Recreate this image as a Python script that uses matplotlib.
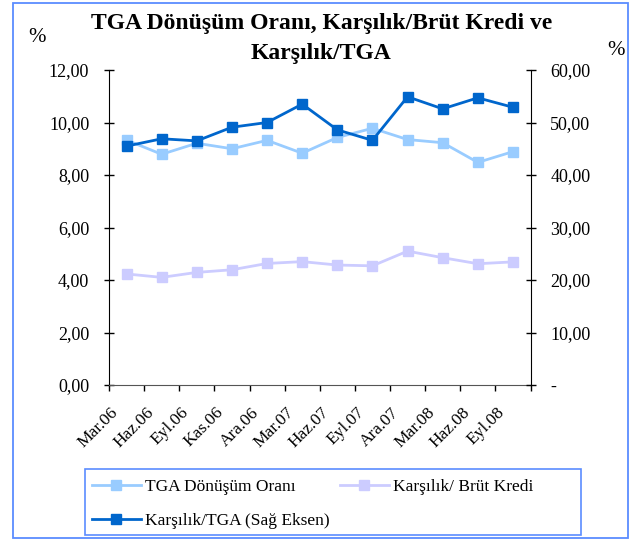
import matplotlib
matplotlib.use("Agg")
import matplotlib.pyplot as plt
from matplotlib.patches import Rectangle
from matplotlib.ticker import FixedLocator, FuncFormatter

plt.rcParams['font.family'] = ['Liberation Serif', 'DejaVu Serif']

donemler = ["Mar.06", "Haz.06", "Eyl.06", "Kas.06", "Ara.06", "Mar.07",
            "Haz.07", "Eyl.07", "Ara.07", "Mar.08", "Haz.08", "Eyl.08"]
tga_donusum = [9.33, 8.79, 9.21, 9.00, 9.32, 8.83, 9.43, 9.78, 9.35, 9.23, 8.48, 8.89]
karsilik_brut = [4.23, 4.10, 4.29, 4.39, 4.63, 4.70, 4.57, 4.54, 5.10, 4.85, 4.62, 4.69]
karsilik_tga = [45.5, 46.9, 46.5, 49.1, 50.0, 53.5, 48.6, 46.6, 54.9, 52.6, 54.7, 52.9]

renk_tga = "#99CCFF"
renk_brut = "#CCCCFF"
renk_karsilik = "#0066CC"
cerceve = "#5B8CFF"

W, H = 638, 541
fig = plt.figure(figsize=(W / 100, H / 100), dpi=100)

def fx(px):
    return px / W

def fy(py):
    return 1 - py / H

def kutu(x0, y0, x1, y1, lw):
    fig.patches.append(Rectangle((fx(x0), fy(y1)), fx(x1) - fx(x0), fy(y0) - fy(y1),
                                 transform=fig.transFigure, fill=False,
                                 edgecolor=cerceve, linewidth=lw))

# outer frame and legend frame
kutu(13, 3, 628, 538, 1.3)
kutu(85, 469, 581, 535, 1.2)

ax = fig.add_axes([fx(109), fy(385), fx(530.5) - fx(109), fy(70) - fy(385)])
ax2 = ax.twinx()

x = list(range(len(donemler)))
l1, = ax.plot(x, tga_donusum, color=renk_tga, marker='s', markersize=7.5,
              linewidth=2, label="TGA Dönüşüm Oranı")
l2, = ax.plot(x, karsilik_brut, color=renk_brut, marker='s', markersize=7.5,
              linewidth=2, label="Karşılık/ Brüt Kredi")
l3, = ax2.plot(x, karsilik_tga, color=renk_karsilik, marker='s', markersize=7.5,
               linewidth=2, label="Karşılık/TGA (Sağ Eksen)")
ax.set_zorder(ax2.get_zorder() - 1)
ax.patch.set_visible(False)
ax2.patch.set_visible(False)

ax.set_xlim(-0.5, len(donemler) - 0.5)
ax.set_ylim(0, 12)
ax2.set_ylim(0, 60)

ax.set_yticks([0, 2, 4, 6, 8, 10, 12])
ax.yaxis.set_major_formatter(FuncFormatter(lambda v, p: f"{v:.2f}".replace(".", ",")))
ax2.set_yticks([0, 10, 20, 30, 40, 50, 60])
ax2.yaxis.set_major_formatter(FuncFormatter(
    lambda v, p: "-" if v == 0 else f"{v:.2f}".replace(".", ",")))

# tick marks on category boundaries, rotated labels hung just left of centre
ax.xaxis.set_major_locator(FixedLocator([i - 0.5 for i in range(len(donemler) + 1)]))
ax.xaxis.set_major_formatter(FuncFormatter(lambda v, p: ""))
ax.xaxis.set_minor_locator(FixedLocator([i - 0.46 for i in x]))
ax.set_xticklabels(donemler, minor=True, rotation=45, ha='right',
                   rotation_mode='anchor', fontsize=12.5)
ax.tick_params(axis='x', which='minor', length=0, pad=14)
ax.tick_params(axis='x', which='major', length=4.5, width=1, direction='out')
ax.tick_params(axis='y', which='major', length=6.5, width=1, direction='inout',
               labelsize=13, pad=11)
ax2.tick_params(axis='y', which='major', length=6.5, width=1, direction='inout',
                labelsize=13, pad=11)

for a in (ax, ax2):
    a.spines['top'].set_visible(False)
ax.spines['right'].set_visible(False)
ax2.spines['left'].set_visible(False)
ax2.spines['bottom'].set_visible(False)
ax.spines['bottom'].set_color("#555555")

fig.text(fx(322), fy(23), "TGA Dönüşüm Oranı, Karşılık/Brüt Kredi ve",
         ha='center', va='center', fontsize=17, fontweight='bold')
fig.text(fx(321), fy(53), "Karşılık/TGA", ha='center', va='center',
         fontsize=17, fontweight='bold')
fig.text(fx(37), fy(37), "%", ha='center', va='center', fontsize=15)
fig.text(fx(616), fy(50), "%", ha='center', va='center', fontsize=15)

leg = fig.legend([l1, l3, l2], [l1.get_label(), l3.get_label(), l2.get_label()],
                 ncol=2, loc='upper left', bbox_to_anchor=(fx(92), fy(479)),
                 frameon=False, fontsize=12.5, handlelength=2.8,
                 handletextpad=0.25, borderaxespad=0, borderpad=0,
                 columnspacing=0.6, labelspacing=1.0)

fig.savefig("out.png", dpi=100)
